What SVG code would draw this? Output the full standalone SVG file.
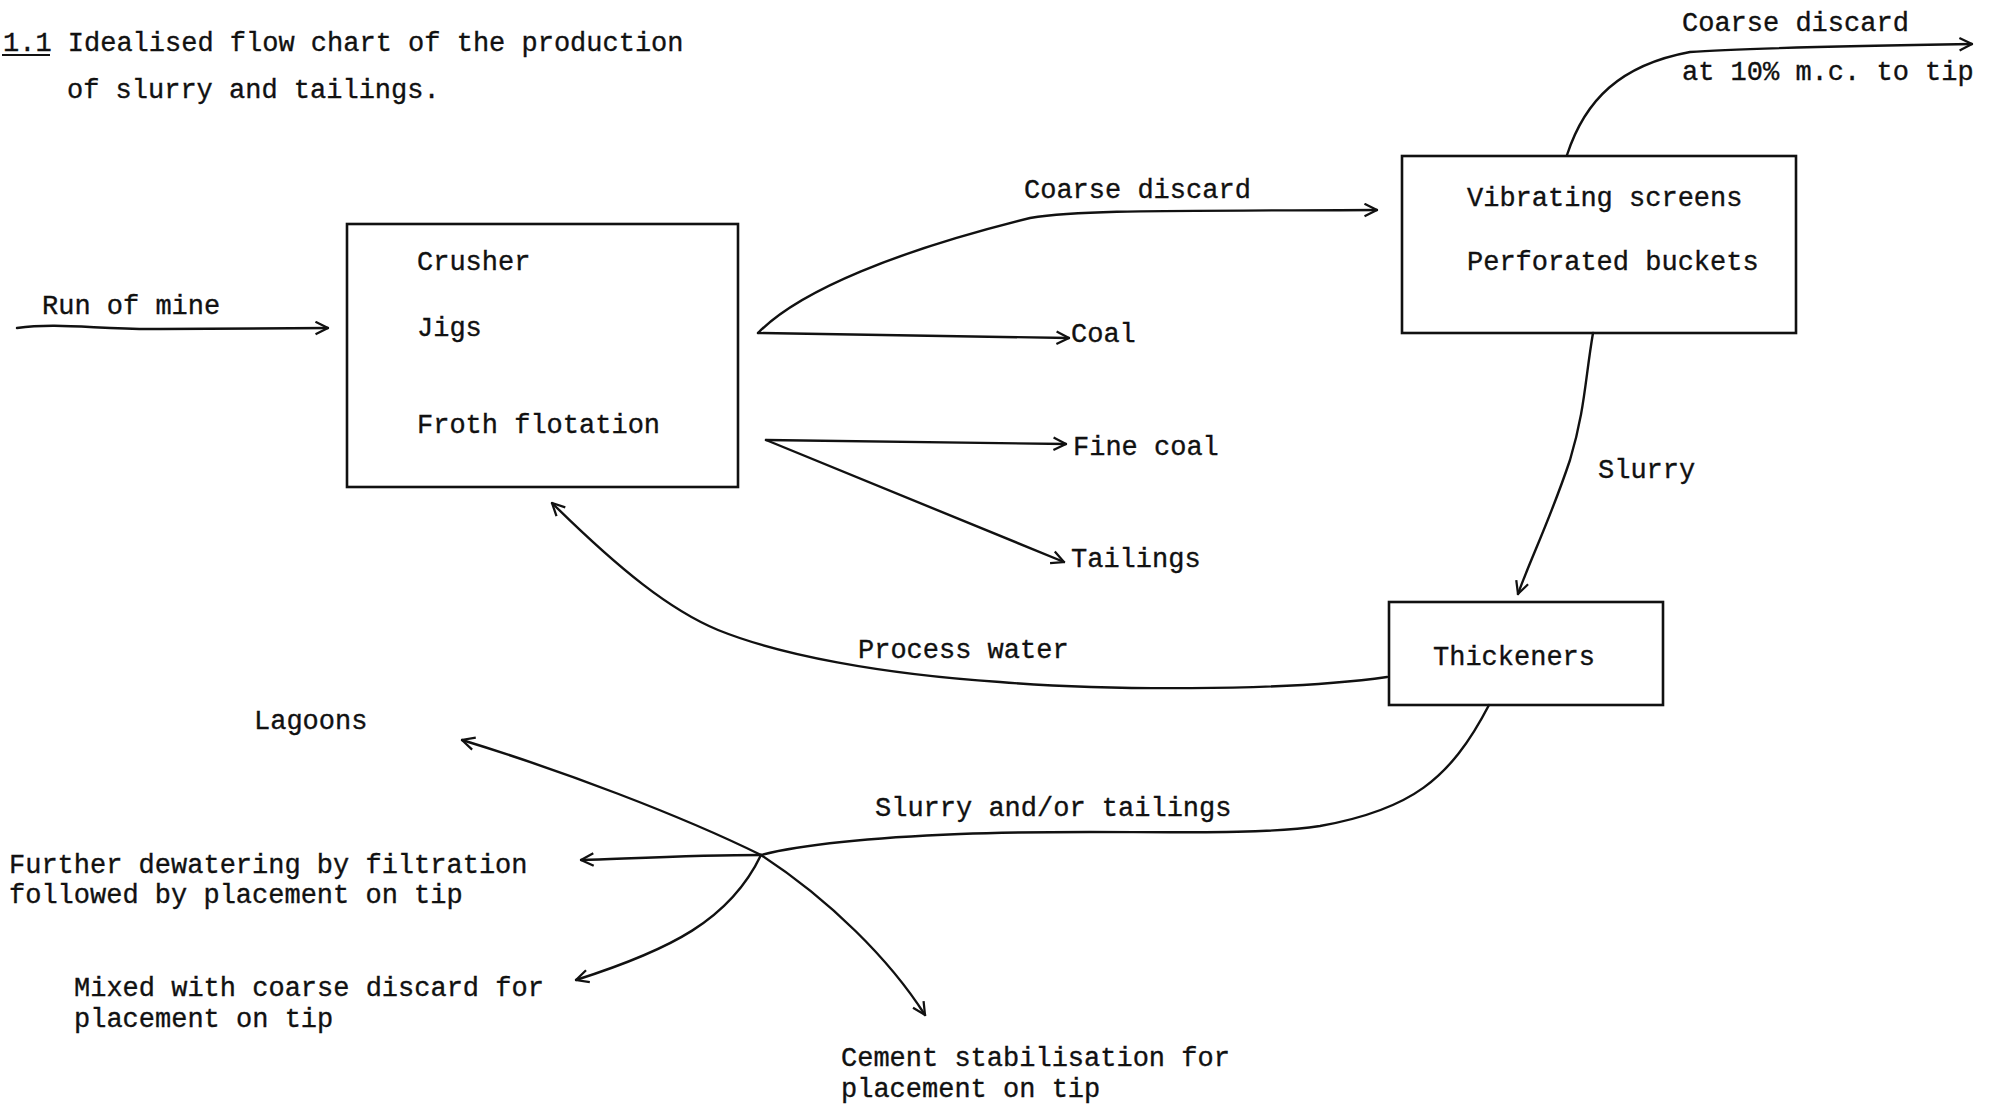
<svg xmlns="http://www.w3.org/2000/svg" width="1995" height="1110" viewBox="0 0 1995 1110">
<defs>
<style>
text{font-family:"Liberation Mono","Courier New",monospace;font-size:27px;fill:#111;stroke:#111;stroke-width:0.35}
.box{fill:none;stroke:#111;stroke-width:2.6}
.c{fill:none;stroke:#111;stroke-width:2.4;stroke-linecap:round}
</style>
<marker id="ah" viewBox="0 0 12 12" refX="11" refY="6" markerWidth="15" markerHeight="15" markerUnits="userSpaceOnUse" orient="auto">
<path d="M1,1 L11,6 L1,11" fill="none" stroke="#111" stroke-width="1.8"/>
</marker>
</defs>
<rect width="1995" height="1110" fill="#fff"/>
<g id="title">
<text x="3" y="51">1.1 Idealised flow chart of the production</text>
<line x1="2" y1="55" x2="50" y2="55" stroke="#111" stroke-width="2"/>
<text x="67" y="98">of slurry and tailings.</text>
</g>
<g id="crusher">
<rect class="box" x="347" y="224" width="391" height="263"/>
<text x="417" y="270">Crusher</text>
<text x="417" y="336">Jigs</text>
<text x="417" y="433">Froth flotation</text>
</g>
<g id="screens">
<rect class="box" x="1402" y="156" width="394" height="177"/>
<text x="1467" y="206">Vibrating screens</text>
<text x="1467" y="270">Perforated buckets</text>
</g>
<g id="thickeners">
<rect class="box" x="1389" y="602" width="274" height="103"/>
<text x="1433" y="665">Thickeners</text>
</g>
<g id="labels">
<text x="42" y="314">Run of mine</text>
<text x="1024" y="198">Coarse discard</text>
<text x="1071" y="342">Coal</text>
<text x="1073" y="455">Fine coal</text>
<text x="1071" y="567">Tailings</text>
<text x="1682" y="31">Coarse discard</text>
<text x="1682" y="80">at 10% m.c. to tip</text>
<text x="1598" y="478">Slurry</text>
<text x="858" y="658">Process water</text>
<text x="875" y="816">Slurry and/or tailings</text>
<text x="254" y="729">Lagoons</text>
<text x="9" y="873">Further dewatering by filtration</text>
<text x="9" y="903">followed by placement on tip</text>
<text x="74" y="996">Mixed with coarse discard for</text>
<text x="74" y="1027">placement on tip</text>
<text x="841" y="1066">Cement stabilisation for</text>
<text x="841" y="1097">placement on tip</text>
</g>
<g id="connectors">
<path class="c" marker-end="url(#ah)" d="M17,328 C60,322 100,330 160,329 L328,328"/>
<path class="c" marker-end="url(#ah)" d="M758,333 C800,290 900,250 1030,218 C1080,210 1150,211 1377,210"/>
<path class="c" marker-end="url(#ah)" d="M758,333 L1069,338"/>
<path class="c" marker-end="url(#ah)" d="M766,440 L1066,444"/>
<path class="c" marker-end="url(#ah)" d="M766,440 L1064,562"/>
<path class="c" marker-end="url(#ah)" d="M1567,155 C1585,100 1620,65 1690,52 C1740,48 1850,46 1972,44"/>
<path class="c" marker-end="url(#ah)" d="M1593,333 C1585,380 1585,410 1570,460 C1550,520 1530,560 1518,594"/>
<path class="c" marker-end="url(#ah)" d="M1387,677 C1280,692 1100,690 1000,682 C880,674 780,655 718,630 C670,610 620,570 552,503"/>
<path class="c" d="M1489,705 C1450,780 1410,810 1320,826 C1240,838 1100,828 960,834 C860,838 800,845 761,855"/>
<path class="c" marker-end="url(#ah)" d="M761,855 C680,815 560,770 462,740"/>
<path class="c" marker-end="url(#ah)" d="M761,855 C700,855 640,858 581,860"/>
<path class="c" marker-end="url(#ah)" d="M761,855 C730,920 670,950 576,980"/>
<path class="c" marker-end="url(#ah)" d="M761,855 C830,900 890,960 925,1015"/>
</g>
</svg>
